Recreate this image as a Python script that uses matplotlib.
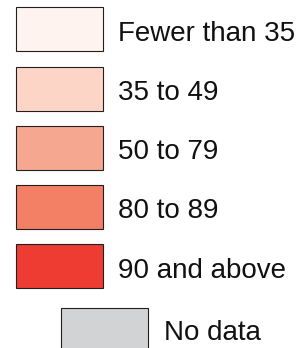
import matplotlib.pyplot as plt
from matplotlib.patches import Rectangle

labels = ['Fewer than 35', '35 to 49', '50 to 79', '80 to 89', '90 and above']
colors = ['#fef3ef', '#fdd5c6', '#f6a78f', '#f37f65', '#ee3c32']
nodata_label = 'No data'
nodata_color = '#d1d3d4'

fig = plt.figure(figsize=(3.04, 3.48), dpi=100)
ax = fig.add_axes([0, 0, 1, 1])
ax.set_xlim(0, 304)
ax.set_ylim(348, 0)
ax.axis('off')

step = 59.2
for i, (lab, col) in enumerate(zip(labels, colors)):
    y0 = 7.3 + i * step
    ax.add_patch(Rectangle((16, y0), 87, 44, facecolor=col, edgecolor='#231f20', linewidth=0.8))
    ax.text(118, y0 + 33.5, lab, fontsize=20, family='Liberation Sans', va='baseline', ha='left', color='#111111')

y0 = 308
ax.add_patch(Rectangle((61, y0), 87, 44, facecolor=nodata_color, edgecolor='#231f20', linewidth=0.8))
ax.text(164, y0 + 32, nodata_label, fontsize=20, family='Liberation Sans', va='baseline', ha='left', color='#111111')

fig.savefig('out.png', dpi=100)
